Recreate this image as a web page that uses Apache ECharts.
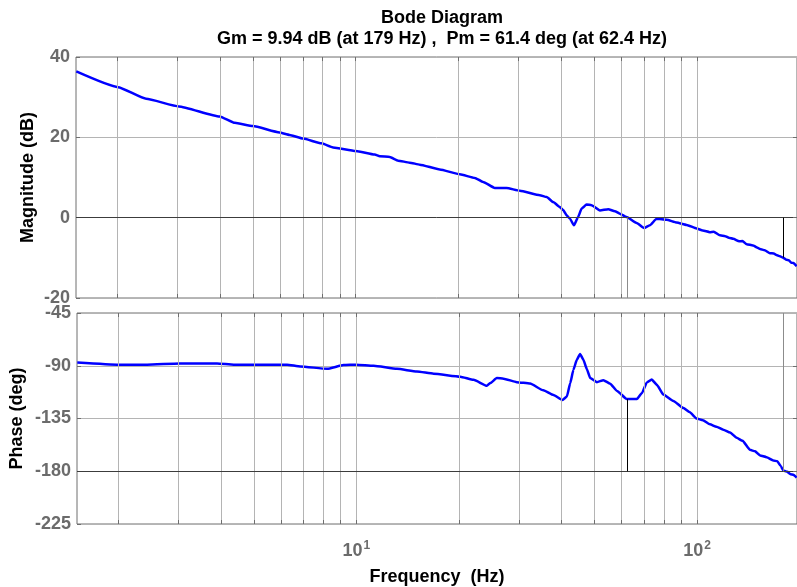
<!DOCTYPE html>
<html>
<head>
<meta charset="utf-8">
<script src="https://cdn.jsdelivr.net/npm/echarts@6/dist/echarts.min.js"></script>
<style>
  html, body { margin: 0; padding: 0; background: #fff; }
  #chart { width: 797px; height: 587px; }
</style>
</head>
<body>
<div id="chart"></div>
<script>
// ---- data ----
const titleLine1 = 'Bode Diagram';
const titleLine2 = 'Gm = 9.94 dB (at 179 Hz) ,  Pm = 61.4 deg (at 62.4 Hz)';

const freqMag = [1.517, 2.01, 2.43, 3.03, 3.99, 4.42, 5.0, 5.98, 6.4, 7.01, 7.93, 8.58, 10, 11.37, 11.76, 12.58, 13.31, 14.39, 15.41, 17.63, 20.18, 22.34, 23.62, 25.56, 27.67, 30.28, 34.65, 36.27, 37.9, 39.66, 40.56, 41.5, 42.44, 43.6, 44.85, 45.9, 47.5, 49.1, 51.97, 54.98, 57.5, 59.45, 62.2, 66.6, 70.0, 72.8, 76.2, 81.5, 87.2, 93.3, 99.8, 104, 109.1, 112, 116.8, 121, 124, 127.8, 133, 136, 139.9, 146, 150, 153.1, 158, 163.7, 168, 171, 175, 179.1, 183, 186, 189, 192, 196.0];
const magDb   = [36.4, 32.5, 29.6, 27.7, 25.2, 23.6, 22.8, 21.2, 20.6, 19.7, 18.5, 17.5, 16.6, 15.7, 15.3, 15.1, 14.2, 13.7, 13.2, 12.0, 10.8, 9.9, 8.9, 7.4, 7.4, 6.7, 5.6, 5.15, 3.9, 2.65, 1.9, 0.6, -0.25, -1.9, 0.15, 2.25, 3.3, 3.1, 1.8, 2.1, 1.6, 1.0, 0.15, -1.35, -2.6, -1.9, -0.25, -0.5, -1.2, -1.8, -2.7, -3.2, -3.6, -3.5, -4.4, -4.6, -5.0, -5.25, -5.9, -5.8, -6.6, -6.9, -7.4, -7.8, -8.1, -8.85, -8.9, -9.3, -9.6, -10.0, -10.5, -10.6, -11.2, -11.3, -12.1];

const freqPh = [1.517, 2.01, 2.43, 3.03, 3.90, 4.37, 6.26, 6.85, 8.21, 9.18, 10, 11.24, 13.16, 15.06, 16.86, 20.18, 22.08, 24.16, 24.71, 25.85, 27.04, 29.58, 32.36, 35.4, 37.9, 40.27, 41.5, 42.44, 43.37, 44.37, 45.36, 46.4, 47.5, 48.57, 50.8, 53.1, 55.6, 58.2, 62.2, 66.6, 68.9, 71.2, 73.6, 76.2, 79.6, 85.2, 91.2, 95, 99.8, 104, 109.1, 114, 119.4, 125, 130.7, 136, 143.0, 148, 153.1, 160, 167.4, 172, 176, 179.1, 184, 188, 192, 196.0];
const phaseDeg = [-87.2, -89.1, -89.1, -88.0, -88.0, -89.1, -89.1, -90.6, -92.6, -89.4, -89.1, -90.0, -92.6, -94.9, -96.8, -99.3, -102, -107.1, -104.8, -100.5, -101.0, -104.0, -105.2, -111, -115, -119.2, -116.2, -104.8, -93.4, -84.9, -80.0, -84.9, -93, -100.5, -104.0, -102.3, -105.3, -111.5, -118.4, -118.4, -113.3, -104.3, -101.7, -106.2, -114.5, -120, -126.1, -129.5, -135, -136.5, -140, -142, -144.6, -147, -151.5, -154, -161.7, -163, -166.5, -168, -170.8, -171.5, -175.5, -179.3, -180.5, -182.5, -183, -185.5];

const gridFreqs = [2, 3, 4, 5, 6, 7, 8, 9, 10, 20, 30, 40, 50, 60, 70, 80, 90, 100];
const magTicks = [-20, 0, 20, 40];
const phaseTicks = [-225, -180, -135, -90, -45];
const gmFreq = 179, gmValue = 9.94;
const pmFreq = 62.4, pmValue = 61.4;

// ---- chart ----
const fMin = 1.514, fMax = 196.5;
const magMin = magTicks[0], magMax = magTicks[magTicks.length - 1];
const phMin = phaseTicks[0], phMax = phaseTicks[phaseTicks.length - 1];

const gridColor = '#b4b4b4';
const axisColor = '#6e6e6e';
const tickLabelColor = '#6b6b6b';
const fontFam = '"Liberation Sans", Arial, sans-serif';
const fs = 18;

function vLines(freqs, color) {
  return freqs.map(f => ({ xAxis: f, lineStyle: { color: color, width: 1, type: 'solid' } }));
}
function seg(x1, y1, x2, y2, color) {
  return [{ coord: [x1, y1], lineStyle: { color: color, width: 1, type: 'solid' } }, { coord: [x2, y2] }];
}
function edgeTicks(yTop, yBot, dy) {
  const out = [];
  gridFreqs.forEach(f => {
    out.push(seg(f, yTop, f, yTop - dy, axisColor));
    out.push(seg(f, yBot, f, yBot + dy, axisColor));
  });
  return out;
}
function rightTicks(vals) {
  const fIn = fMax / Math.pow(10, 4 / 341);
  return vals.map(v => seg(fMax, v, fIn, v, axisColor));
}

const chart = echarts.init(document.getElementById('chart'), null, { renderer: 'canvas' });

const xCommon = {
  type: 'log',
  logBase: 10,
  min: fMin,
  max: fMax,
  axisLine: { show: false },
  axisTick: { show: false },
  splitLine: { show: false },
  minorTick: { show: false },
  minorSplitLine: { show: false }
};

const lineStyle = { color: '#0000ff', width: 2.5 };

const option = {
  animation: false,
  backgroundColor: '#ffffff',
  title: [
    { text: titleLine1, left: 437, top: 4, textAlign: 'center',
      textStyle: { fontFamily: fontFam, fontWeight: 'bold', fontSize: fs, color: '#000' } },
    { text: titleLine2, left: 437, top: 25, textAlign: 'center',
      textStyle: { fontFamily: fontFam, fontWeight: 'bold', fontSize: fs, color: '#000' } }
  ],
  grid: [
    { left: 76, right: 0, top: 57, height: 241, show: true, borderColor: axisColor, borderWidth: 1, backgroundColor: 'transparent' },
    { left: 76, right: 0, top: 313, height: 211, show: true, borderColor: axisColor, borderWidth: 1, backgroundColor: 'transparent' }
  ],
  xAxis: [
    Object.assign({}, xCommon, { gridIndex: 0, axisLabel: { show: false } }),
    Object.assign({}, xCommon, {
      gridIndex: 1,
      name: 'Frequency  (Hz)',
      nameLocation: 'middle',
      nameGap: 44,
      nameMoveOverlap: false,
      nameTextStyle: { fontFamily: fontFam, fontWeight: 'bold', fontSize: fs, color: '#000' },
      axisLabel: {
        show: true,
        showMinLabel: false,
        showMaxLabel: false,
        margin: 16,
        formatter: function (v) {
          const l = Math.log10(v);
          const e = Math.round(l);
          if (Math.abs(l - e) < 1e-6) return '{b|10}{s|' + e + '}';
          return '';
        },
        rich: {
          b: { fontFamily: fontFam, fontWeight: 'bold', fontSize: fs, color: tickLabelColor },
          s: { fontFamily: fontFam, fontWeight: 'bold', fontSize: 12, color: tickLabelColor, verticalAlign: 'bottom', padding: [0, 0, 11, 1] }
        }
      }
    })
  ],
  yAxis: [
    {
      gridIndex: 0, type: 'value', min: magMin, max: magMax, interval: 20,
      name: 'Magnitude (dB)', nameLocation: 'middle', nameGap: 39,
      nameMoveOverlap: false,
      nameTextStyle: { fontFamily: fontFam, fontWeight: 'bold', fontSize: fs, color: '#000' },
      axisLine: { show: false },
      axisTick: { show: true, inside: true, length: 4, lineStyle: { color: axisColor } },
      axisLabel: { fontFamily: fontFam, fontWeight: 'bold', fontSize: fs, color: tickLabelColor, margin: 6 },
      splitLine: { show: true, lineStyle: { color: gridColor, width: 1 } }
    },
    {
      gridIndex: 1, type: 'value', min: phMin, max: phMax, interval: 45,
      name: 'Phase (deg)', nameLocation: 'middle', nameGap: 51,
      nameMoveOverlap: false,
      nameTextStyle: { fontFamily: fontFam, fontWeight: 'bold', fontSize: fs, color: '#000' },
      axisLine: { show: false },
      axisTick: { show: true, inside: true, length: 4, lineStyle: { color: axisColor } },
      axisLabel: { fontFamily: fontFam, fontWeight: 'bold', fontSize: fs, color: tickLabelColor, margin: 6 },
      splitLine: { show: true, lineStyle: { color: gridColor, width: 1 } }
    }
  ],
  series: [
    {
      type: 'line', xAxisIndex: 0, yAxisIndex: 0, z: 2,
      data: freqMag.map((f, i) => [f, magDb[i]]),
      showSymbol: false, symbol: 'none', clip: true,
      smooth: 0.15, smoothMonotone: 'x',
      lineStyle: lineStyle,
      markLine: {
        silent: true, symbol: 'none', label: { show: false }, animation: false,
        data: [].concat(
          vLines(gridFreqs, gridColor),
          [{ yAxis: 0, lineStyle: { color: '#3c3c3c', width: 1, type: 'solid' } }],
          [seg(pmFreq, magMin, pmFreq, 0, '#8c8c8c')],
          [seg(gmFreq, 0, gmFreq, -gmValue, '#000000')],
          edgeTicks(magMax, magMin, 1.0),
          rightTicks([0, 20])
        )
      }
    },
    {
      type: 'line', xAxisIndex: 1, yAxisIndex: 1, z: 2,
      data: freqPh.map((f, i) => [f, phaseDeg[i]]),
      showSymbol: false, symbol: 'none', clip: true,
      smooth: 0.15, smoothMonotone: 'x',
      lineStyle: lineStyle,
      markLine: {
        silent: true, symbol: 'none', label: { show: false }, animation: false,
        data: [].concat(
          vLines(gridFreqs, gridColor),
          [{ yAxis: -180, lineStyle: { color: '#3c3c3c', width: 1, type: 'solid' } }],
          [seg(gmFreq, phMax, gmFreq, -180, '#8c8c8c')],
          [seg(pmFreq, -180, pmFreq, -180 + pmValue, '#000000')],
          edgeTicks(phMax, phMin, 3.4),
          rightTicks([-90, -135, -180])
        )
      }
    }
  ]
};

chart.setOption(option);
</script>
</body>
</html>
